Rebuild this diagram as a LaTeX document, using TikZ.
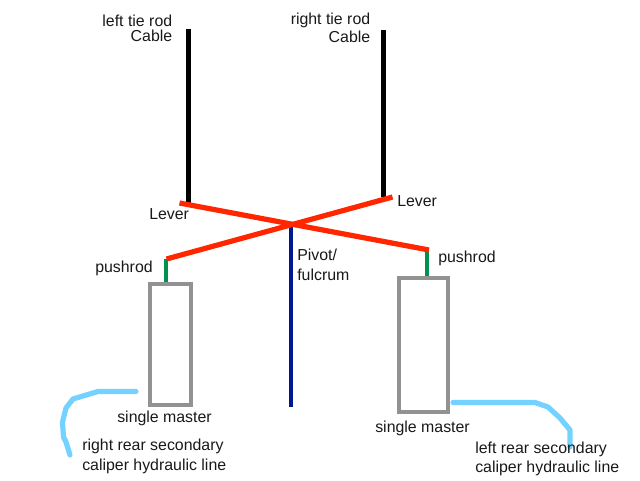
\documentclass[tikz,border=0pt]{standalone}
\usepackage{fontspec}
\setmainfont{Liberation Sans}
\usetikzlibrary{calc,positioning}

\begin{document}
\begin{tikzpicture}[x=0.25mm,y=-0.25mm,
  cable/.style={black,line width=1.25mm},
  leverarm/.style={color={rgb,255:red,255;green,38;blue,0},line width=1.3mm},
  rod/.style={color={rgb,255:red,0;green,144;blue,81},line width=1mm},
  pivotpost/.style={color={rgb,255:red,0;green,25;blue,145},line width=1.2mm},
  master/.style={draw={rgb,255:red,146;green,146;blue,146},line width=1mm,inner sep=0pt},
  hose/.style={color={rgb,255:red,115;green,210;blue,255},line width=1.3mm,line cap=round,line join=round},
  lbl/.style={font=\fontsize{11.3pt}{13pt}\selectfont,inner sep=0pt,text=black!90}
]
\useasboundingbox (0.000000,0.000000) rectangle (640.000000,480.000000);

% tie rod cables
\coordinate (cableLtop) at (188.000000,29.000000);
\coordinate (cableLend) at (188.000000,203.000000);
\coordinate (cableRtop) at (383.500000,30.000000);
\coordinate (cableRend) at (383.500000,197.000000);
\draw[cable] (cableLtop) -- (cableLend);
\draw[cable] (cableRtop) -- (cableRend);

% pivot
\coordinate (pivotTop) at (291.000000,226.000000);
\coordinate (pivotEnd) at (291.000000,407.000000);
\draw[pivotpost] (pivotTop) -- (pivotEnd);

% masters
\node[master,minimum width=10.2mm,minimum height=30.25mm] (masterL) at (170.500000,344.500000) {};
\node[master,minimum width=12.25mm,minimum height=33.5mm] (masterR) at (423.000000,345.000000) {};

% pushrods
\coordinate (leverLend) at (166.000000,259.000000);
\coordinate (leverRend) at (427.000000,250.000000);
\draw[rod] (leverLend) -- (leverLend |- masterL.north);
\draw[rod] (leverRend) -- (leverRend |- masterR.north);

% levers
\coordinate (leverLtop) at (179.500000,203.000000);
\coordinate (leverRtop) at (392.500000,197.000000);
\draw[leverarm] (leverLtop) -- (429.000000,250.000000);
\draw[leverarm] (leverRtop) -- (166.500000,259.000000);

% hydraulic lines
\draw[hose] (136.000000,391.500000) -- (98.000000,391.500000) -- (73.000000,399.000000) -- (66.000000,408.000000) -- (62.500000,422.000000) -- (63.500000,437.000000) -- (66.000000,442.000000) -- (70.000000,455.000000);
\draw[hose] (453.000000,402.500000) -- (535.000000,402.500000) -- (548.000000,407.000000) -- (560.000000,418.000000) -- (570.000000,430.000000) -- (570.000000,447.000000);

% labels
\node[lbl,anchor=base east] (tieL) at (172.500000,26.700000) {left tie rod};
\node[lbl,anchor=base east] (cableL) at (172.500000,41.700000) {Cable};
\node[lbl,anchor=base east] (tieR) at (370.500000,25.000000) {right tie rod};
\node[lbl,anchor=base east] (cableR) at (370.500000,42.300000) {Cable};
\node[lbl,anchor=base west] (labelLeverL) at (149.000000,219.500000) {Lever};
\node[lbl,anchor=base west] (labelLeverR) at (397.000000,206.700000) {Lever};
\node[lbl,anchor=base west] (labelRodL) at (95.000000,272.000000) {pushrod};
\node[lbl,anchor=base west] (labelRodR) at (438.000000,262.000000) {pushrod};
\node[lbl,anchor=base west] (labelPivot) at (297.000000,260.000000) {Pivot/};
\node[lbl,anchor=base west] (labelFulcrum) at (297.000000,280.000000) {fulcrum};
\node[lbl,anchor=base west] (labelMasterL) at (117.000000,422.700000) {single master};
\node[lbl,anchor=base west] (labelMasterR) at (375.000000,432.700000) {single master};
\node[lbl,anchor=base west] (labelLineL) at (82.000000,450.000000) {right rear secondary};
\node[lbl,anchor=base west] (labelLineLb) at (82.000000,470.000000) {caliper hydraulic line};
\node[lbl,anchor=base west] (labelLineR) at (475.000000,453.000000) {left rear secondary};
\node[lbl,anchor=base west] (labelLineRb) at (475.000000,472.700000) {caliper hydraulic line};
\end{tikzpicture}
\end{document}
